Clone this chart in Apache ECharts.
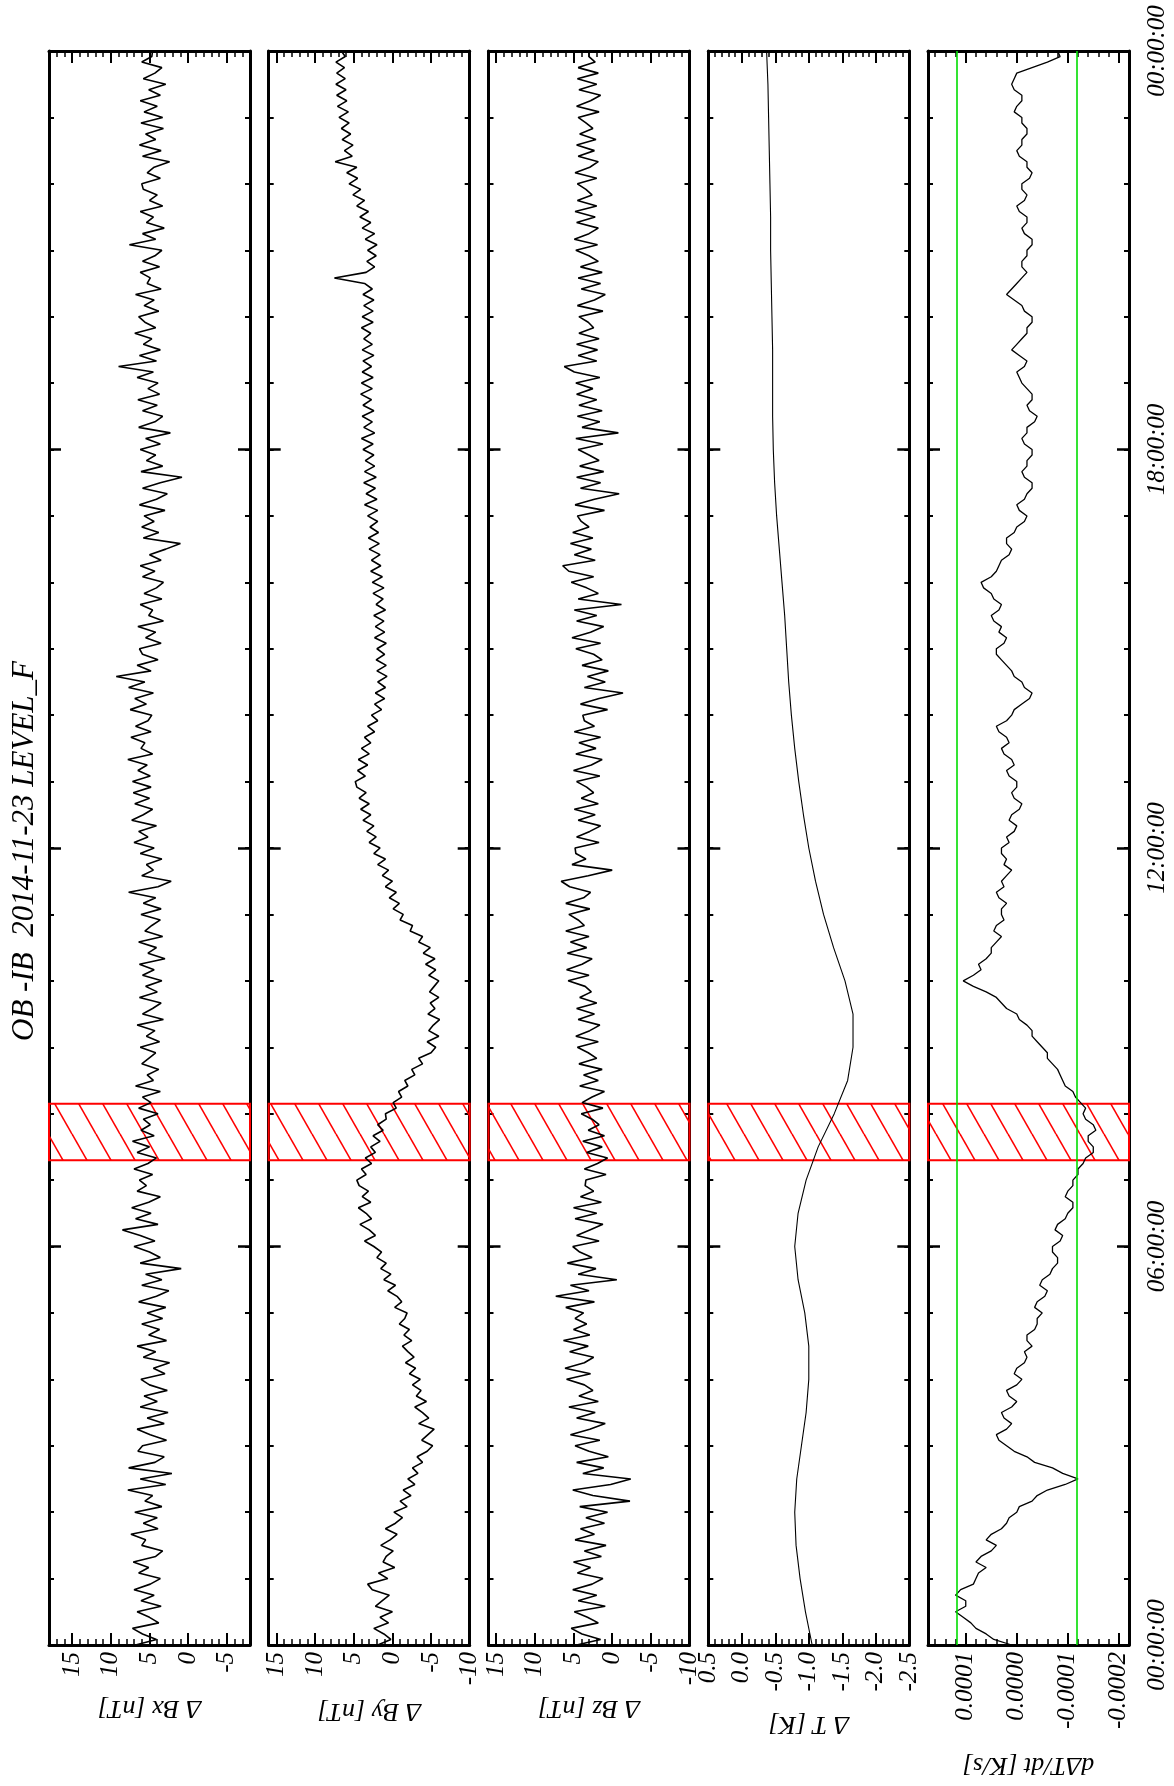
<!DOCTYPE html>
<html><head><meta charset="utf-8">
<script src="https://cdn.jsdelivr.net/npm/echarts@6/dist/echarts.min.js"></script>
<style>html,body{margin:0;padding:0;background:#fff}#c{width:1174px;height:1786px}</style>
</head><body><div id="c"></div>
<script>
// ---------------- data ----------------
const titleText = 'OB -IB  2014-11-23 LEVEL_F';
const timeLabels = ['00:00:00', '06:00:00', '12:00:00', '18:00:00', '00:00:00'];
const magStepMinutes = 5;     // sampling of Bx, By, Bz
const rateStepMinutes = 5;    // sampling of dDeltaT/dt
const tempStepMinutes = 30;   // sampling of Delta T

const bx = [
 6.8,4.1,5.9,7.2,3.8,5.0,6.6,3.5,6.1,4.4,7.0,4.9,
 3.6,6.4,5.1,7.1,4.2,3.3,6.0,5.5,7.4,3.9,5.8,4.0,
 6.9,3.4,5.6,4.6,7.8,2.9,6.2,2.1,7.7,4.3,3.1,6.5,
 5.9,2.8,4.9,6.6,3.1,5.3,2.6,6.2,4.0,5.7,2.7,5.0,
 6.1,3.0,4.5,2.4,5.8,4.2,6.6,2.8,5.1,3.7,6.0,3.3,
 5.3,2.9,6.4,4.1,2.5,6.0,3.4,5.5,0.9,6.2,3.6,5.0,
 7.0,4.3,6.2,8.5,3.9,6.8,4.8,7.3,5.1,3.6,6.6,5.4,
 6.3,4.6,7.0,5.2,4.1,6.6,5.0,7.2,4.4,6.1,4.9,5.8,
 3.9,6.4,4.8,5.9,3.6,6.8,4.5,5.3,3.8,6.0,5.1,4.2,
 6.2,3.7,5.4,4.3,6.6,3.2,5.9,4.6,3.5,6.3,4.0,5.5,
 3.4,5.9,4.4,6.3,3.0,5.2,4.1,6.4,3.3,5.6,4.7,3.6,
 6.1,3.5,5.8,4.2,7.7,3.9,2.2,6.0,4.5,5.4,3.4,6.2,
 4.4,7.0,5.2,6.4,4.1,7.3,5.8,4.6,6.9,5.0,7.1,4.8,
 7.2,4.9,6.5,5.3,7.8,4.6,6.1,5.6,7.4,4.8,6.8,5.2,
 4.7,7.5,5.4,6.9,4.5,7.7,5.6,9.3,4.8,6.6,3.9,5.9,
 6.3,3.5,5.5,4.2,6.5,3.2,5.1,4.6,6.2,3.4,5.7,4.1,
 3.2,5.9,4.3,6.2,3.5,5.0,2.9,1.0,5.8,3.8,6.0,4.4,
 5.7,3.0,6.3,4.1,2.7,5.9,3.6,0.8,6.1,3.3,5.4,4.2,
 6.2,3.6,5.5,2.3,6.4,4.3,3.3,5.9,4.0,6.5,3.7,5.2,
 3.9,6.6,4.5,9.0,4.1,6.3,3.6,5.8,4.7,6.9,4.2,5.6,
 6.4,3.8,5.7,4.4,6.8,3.5,5.3,4.9,6.2,3.7,5.9,4.3,
 3.4,7.6,4.2,5.9,3.1,5.4,4.5,6.2,3.3,5.0,4.0,5.8,
 6.0,3.6,5.3,4.4,2.4,5.9,3.5,6.3,4.2,5.5,3.2,6.1,
 3.3,5.7,4.0,6.2,3.6,5.1,2.9,5.8,4.3,3.4,6.0,4.7,
 4.6
];
const by = [
 1.9,0.2,1.1,2.4,0.5,1.6,0.0,2.2,1.3,0.4,2.6,3.2,
 0.6,1.8,-0.3,1.2,0.8,-0.1,1.5,0.3,-0.6,0.9,-0.4,-1.3,
 -0.2,-1.9,-1.0,-2.4,-1.4,-2.9,-2.0,-3.3,-2.6,-3.9,-3.2,-4.5,
 -5.2,-3.8,-4.6,-5.4,-3.4,-4.7,-3.9,-2.9,-4.4,-3.1,-3.7,-2.6,
 -3.6,-2.2,-3.0,-1.7,-2.8,-2.0,-1.3,-2.5,-1.5,-2.2,-0.9,-1.6,
 -1.9,-0.3,-1.2,-0.6,0.6,-0.4,1.1,0.2,1.5,0.8,2.0,1.4,
 2.4,3.6,2.2,3.0,4.2,2.7,3.4,4.4,2.8,3.9,3.1,4.3,
 4.6,3.4,4.0,2.7,3.5,2.2,2.8,1.6,2.5,1.2,1.9,0.8,
 0.9,-0.5,-0.1,-1.2,-0.8,-2.0,-1.6,-2.9,-2.5,-3.9,-3.4,-5.0,
 -5.6,-4.5,-6.0,-4.7,-5.3,-6.1,-4.6,-5.5,-4.9,-6.0,-4.8,-5.4,
 -6.0,-4.7,-5.6,-4.3,-5.5,-4.0,-4.9,-3.4,-3.9,-2.3,-2.6,-1.0,
 -1.4,-0.1,-0.9,0.4,-0.5,0.9,0.0,1.3,0.5,1.9,0.9,2.4,
 1.6,3.0,2.1,3.3,2.4,3.8,2.8,4.1,3.0,4.3,3.4,4.6,
 4.8,3.5,4.5,3.2,4.4,3.0,4.0,2.8,3.6,2.3,3.2,1.9,
 2.7,1.4,2.3,1.0,2.2,0.9,1.9,0.7,2.0,0.8,2.1,1.0,
 2.0,0.8,2.3,1.0,2.2,1.1,2.4,0.9,2.1,1.2,2.5,1.1,
 2.6,1.3,2.8,1.5,2.7,1.6,3.0,1.7,3.1,1.8,2.9,1.9,
 3.2,1.9,3.6,2.0,3.4,2.2,3.7,2.1,3.6,2.3,3.5,2.4,
 3.8,2.5,4.0,2.3,3.7,2.6,3.9,2.4,3.8,2.7,4.1,2.6,
 4.0,2.5,3.9,2.7,3.8,2.4,3.9,2.6,3.7,2.8,4.0,2.5,
 3.9,2.5,3.7,2.4,3.8,2.6,3.6,7.5,3.4,2.3,3.3,2.1,
 3.2,2.0,3.5,2.3,3.9,2.8,4.2,3.1,4.6,3.6,5.1,4.1,
 5.6,4.5,5.9,4.6,7.4,5.2,6.2,5.1,6.5,5.4,6.6,5.6,
 6.9,5.7,7.1,5.9,7.2,6.0,7.3,6.1,7.2,6.2,7.3,6.1,
 6.6
];
const bz = [
 4.6,1.5,3.9,5.3,1.8,3.2,4.9,0.9,4.4,2.0,5.1,2.6,
 1.2,4.5,2.8,5.0,1.4,3.6,0.8,4.8,2.3,4.1,1.0,3.4,
 0.6,4.2,-2.3,2.5,5.1,0.2,-2.4,3.8,1.1,4.6,0.5,3.0,
 4.8,1.6,5.4,2.9,0.9,4.6,2.2,5.6,1.8,4.3,2.5,3.6,
 5.9,2.8,6.1,3.6,2.4,5.5,3.1,6.3,2.9,5.0,3.3,4.8,
 3.7,6.0,2.3,7.3,3.0,5.4,-0.6,4.4,2.1,5.8,2.6,4.2,
 5.1,1.7,4.6,2.9,1.2,4.8,2.0,5.0,1.4,4.1,2.4,3.5,
 3.4,0.8,3.6,1.9,0.6,3.3,1.3,3.8,1.0,3.1,1.7,2.6,
 4.0,1.2,3.9,2.6,1.0,4.2,1.8,3.7,1.3,4.3,2.0,3.1,
 4.5,1.8,4.7,2.9,1.6,4.4,2.3,4.6,2.0,4.2,2.7,3.5,
 5.7,3.0,5.9,3.9,2.6,5.8,3.3,5.4,3.0,6.0,3.6,4.4,
 5.6,2.9,6.0,3.7,2.8,5.5,6.6,3.1,0.0,5.2,3.4,4.7,
 4.8,1.7,4.6,2.9,1.5,4.4,2.2,4.9,1.8,4.0,2.4,3.3,
 4.6,1.6,5.0,2.7,1.3,4.7,2.1,4.3,1.5,4.9,2.3,3.6,
 3.8,0.6,4.1,1.7,-1.4,3.6,0.9,3.2,0.5,3.9,1.3,2.4,
 4.7,1.5,5.2,2.8,1.1,4.6,2.0,4.9,-1.2,4.4,1.8,3.3,
 5.3,2.4,5.6,6.4,2.2,4.9,2.7,5.4,2.5,5.1,3.0,4.0,
 4.5,1.0,4.8,2.3,-0.9,4.1,1.5,4.6,1.1,4.2,1.7,3.0,
 4.4,1.2,4.7,-0.8,3.9,1.6,4.5,1.3,4.3,2.0,4.6,2.5,
 4.7,1.6,4.9,6.2,2.0,4.4,1.9,4.6,1.7,4.3,2.4,3.1,
 4.3,1.2,4.5,2.3,0.9,4.0,1.5,4.4,1.3,4.1,1.8,3.0,
 4.7,1.9,4.9,3.0,1.8,4.6,2.2,4.8,2.0,4.5,2.6,3.4,
 4.5,2.0,4.8,2.9,1.8,4.4,2.3,4.6,2.1,4.2,2.5,3.4,
 4.4,1.7,4.6,2.8,1.5,4.3,2.0,4.5,1.8,4.4,2.2,3.0,
 3.0
];
const deltaT = [
 -1.05,-0.95,-0.87,-0.81,-0.79,-0.82,-0.89,-0.96,-1.00,-1.00,-0.94,-0.84,
 -0.79,-0.84,-0.96,-1.14,-1.38,-1.58,-1.66,-1.66,-1.54,-1.37,-1.22,-1.10,
 -1.00,-0.92,-0.85,-0.79,-0.74,-0.70,-0.67,-0.64,-0.60,-0.56,-0.52,-0.49,
 -0.47,-0.46,-0.46,-0.46,-0.45,-0.44,-0.43,-0.43,-0.42,-0.41,-0.40,-0.39,
 -0.37
];
// dDeltaT/dt in units of 1e-4 K/s
const dTdtE4 = [
 0.1,0.45,0.6,0.8,0.9,1.05,1.2,1.0,1.0,1.2,1.1,0.85,
 0.8,0.75,0.6,0.8,0.7,0.5,0.4,0.6,0.5,0.3,0.2,0.15,
 0.0,-0.05,-0.3,-0.4,-0.6,-0.95,-1.2,-0.9,-0.7,-0.35,-0.2,0.05,
 0.2,0.35,0.4,0.2,0.1,0.25,0.3,0.1,0.0,0.15,0.2,0.0,
 -0.1,0.05,0.0,-0.15,-0.2,-0.15,-0.3,-0.2,-0.2,-0.35,-0.4,-0.4,
 -0.5,-0.35,-0.4,-0.55,-0.6,-0.45,-0.5,-0.65,-0.7,-0.8,-0.8,-0.7,
 -0.7,-0.85,-0.9,-0.75,-0.8,-0.95,-1.0,-1.1,-1.1,-0.95,-1.0,-1.1,
 -1.1,-1.2,-1.2,-1.3,-1.35,-1.5,-1.5,-1.4,-1.4,-1.55,-1.5,-1.35,
 -1.3,-1.35,-1.25,-1.15,-1.1,-0.95,-0.9,-0.85,-0.8,-0.7,-0.6,-0.6,
 -0.5,-0.4,-0.3,-0.3,-0.2,-0.05,0.0,0.2,0.3,0.4,0.6,0.85,
 1.05,0.85,0.7,0.75,0.6,0.5,0.5,0.4,0.3,0.45,0.4,0.25,
 0.3,0.3,0.2,0.35,0.4,0.25,0.3,0.2,0.1,0.25,0.2,0.3,
 0.3,0.15,0.2,0.05,0.0,0.15,0.1,-0.05,-0.1,0.05,0.1,0.0,
 0.0,0.15,0.2,0.05,0.1,0.25,0.3,0.15,0.2,0.35,0.4,0.2,
 0.1,0.05,-0.1,-0.25,-0.3,-0.15,-0.1,0.05,0.1,0.2,0.3,0.4,
 0.4,0.25,0.2,0.35,0.3,0.45,0.5,0.35,0.3,0.45,0.5,0.65,
 0.7,0.5,0.4,0.35,0.3,0.15,0.1,0.2,0.2,0.05,0.0,-0.15,
 -0.2,-0.05,0.0,-0.15,-0.2,-0.3,-0.3,-0.15,-0.1,-0.2,-0.2,-0.3,
 -0.3,-0.15,-0.1,-0.2,-0.2,-0.35,-0.4,-0.25,-0.2,-0.3,-0.3,-0.2,
 -0.1,-0.05,0.0,-0.15,-0.2,-0.05,0.1,0.0,-0.1,-0.2,-0.2,-0.3,
 -0.3,-0.15,-0.1,0.05,0.2,0.1,0.0,-0.1,-0.2,-0.1,-0.1,-0.2,
 -0.2,-0.3,-0.3,-0.15,-0.1,-0.2,-0.2,-0.05,0.0,-0.15,-0.2,-0.1,
 -0.1,-0.25,-0.3,-0.2,-0.2,-0.05,0.0,-0.1,-0.1,-0.2,-0.2,-0.1,
 -0.1,0.05,0.0,-0.1,-0.1,0.05,0.1,0.05,0.0,-0.3,-0.6,-0.85,
 -0.8
];
const hatchSpanHours = [7.3, 8.15];
const dTdtThresholds = [1.17e-4, -1.17e-4];

const panelNames = ['Δ Bx [nT]', 'Δ By [nT]', 'Δ Bz [nT]', 'Δ T [K]', 'dΔT/dt [K/s]'];
const panelRanges = [[-8, 18], [-10, 16], [-10, 16], [-2.5, 0.5], [-2.2e-4, 1.74e-4]];
const panelMajorTicks = [
  [-5, 0, 5, 10, 15],
  [-10, -5, 0, 5, 10, 15],
  [-10, -5, 0, 5, 10, 15],
  [-2.5, -2.0, -1.5, -1.0, -0.5, 0.0, 0.5],
  [-2e-4, -1e-4, 0, 1e-4]
];
const panelMinorStep = [1, 1, 1, 0.1, 0.2e-4];
const panelLabelDigits = [0, 0, 0, 1, 4];

// ---------------- layout / style ----------------
const FONT = '"Liberation Serif", "DejaVu Serif", serif';
const gridLefts = [49, 268.7, 488.5, 708.3, 928];
const gridWidth = 201, gridTop = 51, gridHeight = 1594;
const nameGaps = [50, 53, 50, 66, 107];

function hatchCanvas() {
  const W = 24, H = 42;
  const c = document.createElement('canvas');
  c.width = W; c.height = H;
  const g = c.getContext('2d');
  g.strokeStyle = '#ff0000'; g.lineWidth = 1.6;
  [-W, 0, W].forEach(dx => { g.beginPath(); g.moveTo(dx, 0); g.lineTo(dx + W, H); g.stroke(); });
  return c;
}
const hatch = hatchCanvas();

const toPairs = (arr, stepMin, scale) => arr.map((v, i) => [v * (scale || 1), i * stepMin / 60]);
const seriesData = [
  toPairs(bx, magStepMinutes), toPairs(by, magStepMinutes), toPairs(bz, magStepMinutes),
  toPairs(deltaT, tempStepMinutes), toPairs(dTdtE4, rateStepMinutes, 1e-4)
];
const lineWidths = [1.6, 1.6, 1.6, 1.1, 1.3];

const grid = [], xAxis = [], yAxis = [], series = [];
const labelStyle = { fontFamily: FONT, fontStyle: 'italic', fontSize: 25, color: '#000' };

for (let p = 0; p < 5; p++) {
  grid.push({ left: gridLefts[p], top: gridTop, width: gridWidth, height: gridHeight });
  const [mn, mx] = panelRanges[p];
  const xBase = xAxis.length;
  xAxis.push({
    type: 'value', gridIndex: p, position: 'bottom', inverse: true, min: mn, max: mx,
    axisLine: { show: true, onZero: false, lineStyle: { color: '#000', width: 3 } },
    axisTick: { show: true, inside: true, length: 12, lineStyle: { color: '#000', width: 2 }, customValues: panelMajorTicks[p] },
    axisLabel: Object.assign({ show: true, rotate: 90, margin: 7, customValues: panelMajorTicks[p],
      formatter: v => Number(v).toFixed(panelLabelDigits[p]).replace(/^-(0\.?0*)$/, '$1') }, labelStyle),
    splitLine: { show: false },
    name: panelNames[p], nameLocation: 'middle', nameRotate: 180, nameGap: nameGaps[p], nameMoveOverlap: false,
    nameTextStyle: { fontFamily: FONT, fontStyle: 'italic', fontSize: 26, color: '#000' }
  });
  xAxis.push({
    type: 'value', gridIndex: p, position: 'bottom', inverse: true, min: mn, max: mx, interval: panelMinorStep[p],
    axisLine: { show: false, onZero: false }, axisLabel: { show: false }, splitLine: { show: false },
    axisTick: { show: true, inside: true, length: 6, lineStyle: { color: '#000', width: 1.5 } }
  });
  xAxis.push({
    type: 'value', gridIndex: p, position: 'top', inverse: true, min: mn, max: mx,
    axisLine: { show: true, onZero: false, lineStyle: { color: '#000', width: 3 } },
    axisTick: { show: true, inside: true, length: 12, lineStyle: { color: '#000', width: 2 }, customValues: panelMajorTicks[p] },
    axisLabel: { show: false }, splitLine: { show: false }
  });
  xAxis.push({
    type: 'value', gridIndex: p, position: 'top', inverse: true, min: mn, max: mx, interval: panelMinorStep[p],
    axisLine: { show: false, onZero: false }, axisLabel: { show: false }, splitLine: { show: false },
    axisTick: { show: true, inside: true, length: 6, lineStyle: { color: '#000', width: 1.5 } }
  });

  const yBase = yAxis.length;
  const isLast = p === 4;
  yAxis.push({
    type: 'value', gridIndex: p, position: 'left', min: 0, max: 24, interval: 1,
    axisLine: { show: true, onZero: false, lineStyle: { color: '#000', width: 3 } },
    axisTick: { show: true, inside: true, length: 5, lineStyle: { color: '#000', width: 2 } },
    axisLabel: { show: false }, splitLine: { show: false }
  });
  yAxis.push({
    type: 'value', gridIndex: p, position: 'left', min: 0, max: 24, interval: 6,
    axisLine: { show: false, onZero: false },
    axisTick: { show: true, inside: true, length: 12, lineStyle: { color: '#000', width: 2.5 } },
    axisLabel: { show: false }, splitLine: { show: false }
  });
  yAxis.push({
    type: 'value', gridIndex: p, position: 'right', min: 0, max: 24, interval: 1,
    axisLine: { show: true, onZero: false, lineStyle: { color: '#000', width: 3 } },
    axisTick: { show: true, inside: true, length: 5, lineStyle: { color: '#000', width: 2 } },
    axisLabel: { show: false }, splitLine: { show: false }
  });
  yAxis.push({
    type: 'value', gridIndex: p, position: 'right', min: 0, max: 24, interval: 6,
    axisLine: { show: false, onZero: false },
    axisTick: { show: true, inside: true, length: 12, lineStyle: { color: '#000', width: 2.5 } },
    axisLabel: Object.assign({ show: isLast, rotate: 90, margin: 16,
      formatter: v => timeLabels[Math.round(v / 6)] }, labelStyle),
    splitLine: { show: false }
  });

  const s = {
    type: 'line', xAxisIndex: xBase, yAxisIndex: yBase, data: seriesData[p],
    showSymbol: false, symbol: 'none', animation: false,
    lineStyle: { color: '#000', width: lineWidths[p] },
    markArea: {
      silent: true,
      itemStyle: { color: { image: hatch, repeat: 'repeat' }, borderColor: '#ff0000', borderWidth: 2 },
      data: [[{ yAxis: hatchSpanHours[0] }, { yAxis: hatchSpanHours[1] }]]
    }
  };
  if (isLast) {
    s.markLine = {
      silent: true, symbol: 'none', precision: 10, label: { show: false },
      lineStyle: { color: '#00dd00', width: 1.6, type: 'solid' },
      data: dTdtThresholds.map(v => ({ xAxis: v }))
    };
  }
  series.push(s);
}

const chart = echarts.init(document.getElementById('c'), null, { renderer: 'canvas' });
chart.setOption({
  animation: false,
  backgroundColor: '#fff',
  grid, xAxis, yAxis, series,
  graphic: [{
    type: 'text', x: 25, y: 851, rotation: Math.PI / 2,
    style: { text: titleText, fontFamily: FONT, fontStyle: 'italic', fontSize: 31, fill: '#000',
      align: 'center', verticalAlign: 'middle', textAlign: 'center', textVerticalAlign: 'middle' }
  }]
});
</script></body></html>
